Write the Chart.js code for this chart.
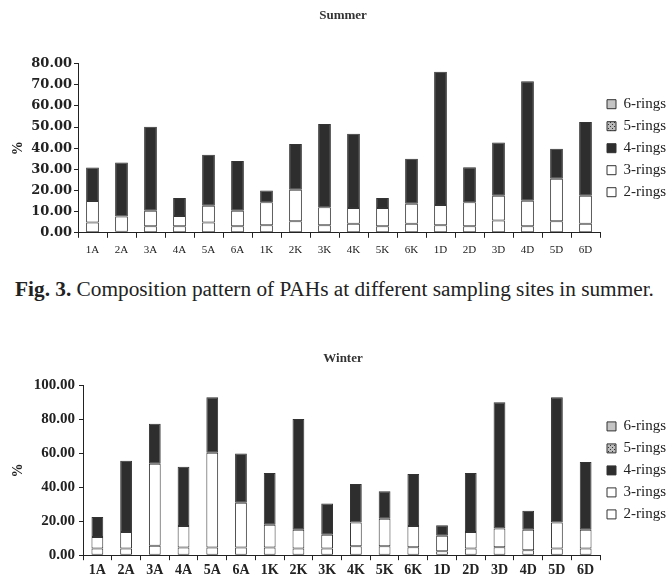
<!DOCTYPE html>
<html>
<head>
<meta charset="utf-8">
<script src="https://cdn.jsdelivr.net/npm/chart.js@4.4.1/dist/chart.umd.min.js"></script>
<style>
  body { margin: 0; background: #fff; width: 669px; height: 579px; overflow: hidden; position: relative; font-family: "Liberation Serif", serif; }
  #summer { position: absolute; left: 0; top: 0; }
  #winter { position: absolute; left: 0; top: 335px; }
  #caption { position: absolute; left: 0; top: 277px; width: 669px; text-align: center; font-size: 21.3px; color: #222; white-space: nowrap; }
</style>
</head>
<body>
<canvas id="summer" width="669" height="264"></canvas>
<div id="caption"><b>Fig. 3.</b> Composition pattern of PAHs at different sampling sites in summer.</div>
<canvas id="winter" width="669" height="246"></canvas>
<script>
const sites = ['1A','2A','3A','4A','5A','6A','1K','2K','3K','4K','5K','6K','1D','2D','3D','4D','5D','6D'];
const rings = ['2-rings','3-rings','4-rings','5-rings','6-rings'];

// summer, % per ring group (segment heights)
const summer2 = [4.9,0.5,3.1,3.1,4.9,3.1,3.6,5.5,3.6,4.3,3.1,4.3,3.6,3.1,5.8,3.1,5.5,4.3];
const summer3 = [10.1,7.2,7.3,4.9,7.9,7.3,10.9,14.8,8.5,7.4,8.6,9.4,9.6,11.4,11.7,12.0,20.0,13.2];
const summer4 = [15.9,25.5,39.7,8.5,24.1,23.5,5.5,21.7,39.4,35.1,4.8,21.3,63.0,16.5,25.2,56.6,14.2,34.9];
const summer5 = [0,0,0,0,0,0,0,0,0,0,0,0,0,0,0,0,0,0];
const summer6 = [0,0,0,0,0,0,0,0,0,0,0,0,0,0,0,0,0,0];

// winter
const winter2 = [3.9,3.9,5.5,4.5,4.5,4.5,4.5,3.9,3.9,5.3,5.3,4.7,2.3,3.9,4.7,2.9,3.9,3.9];
const winter3 = [6.8,9.8,48.4,12.7,55.9,26.4,13.5,11.1,8.2,14.0,16.2,12.5,9.2,9.8,11.1,12.1,15.4,11.1];
const winter4 = [11.8,42.0,23.6,34.9,32.8,29.1,30.4,65.3,18.4,22.7,16.2,30.7,6.1,34.7,74.4,11.2,73.9,39.9];
const winter5 = [0,0,0,0,0,0,0,0,0,0,0,0,0,0,0,0,0,0];
const winter6 = [0,0,0,0,0,0,0,0,0,0,0,0,0,0,0,0,0,0];

const summerTicks = { max: 80, step: 10 };
const winterTicks = { max: 100, step: 20 };

// little crosshatch for the 5-rings fill
function hatch() {
  const c = document.createElement('canvas');
  c.width = 4; c.height = 4;
  const g = c.getContext('2d');
  g.fillStyle = '#bbb'; g.fillRect(0, 0, 4, 4);
  g.fillStyle = '#333'; g.fillRect(0, 0, 1, 1); g.fillRect(2, 2, 1, 1);
  return g.createPattern(c, 'repeat');
}
const fills = ['#ffffff', '#ffffff', '#2e2e2e', hatch(), '#c4c4c4'];

const serif = '"Liberation Serif", "Times New Roman", serif';

function drawChart(id, title, series, ticks, o) {
  new Chart(document.getElementById(id), {
    type: 'bar',
    data: {
      labels: sites,
      datasets: series.map((d, i) => ({
        label: rings[i], data: d,
        backgroundColor: fills[i], borderColor: '#333', borderWidth: 1, borderSkipped: false,
        barPercentage: o.barPct, categoryPercentage: 1
      }))
    },
    options: {
      responsive: false, animation: false,
      layout: { padding: { left: 10, right: -7, bottom: o.padBottom } },
      plugins: {
        title: { display: true, text: title, color: '#333', font: { family: serif, size: 13, weight: 'bold' }, padding: { top: o.titleTop, bottom: o.titleBottom } },
        legend: {
          position: 'right', reverse: true, fullSize: false,
          labels: { boxWidth: 9, boxHeight: 9, padding: 7, color: '#222', font: { family: serif, size: 15 } }
        },
        tooltip: { enabled: false }
      },
      scales: {
        x: {
          stacked: true,
          border: { color: '#222', width: 1 },
          grid: { display: true, drawOnChartArea: false, offset: true, tickLength: 5, color: '#222' },
          ticks: { color: '#222', padding: o.xPad, maxRotation: 0, font: { family: serif, size: o.xFont, weight: o.xWeight } }
        },
        y: {
          stacked: true, min: 0, max: ticks.max,
          afterFit: s => { s.width = o.yWidth; },
          border: { color: '#222', width: 1 },
          grid: { display: true, drawOnChartArea: false, tickLength: 4, color: '#222' },
          ticks: { stepSize: ticks.step, color: '#222', padding: o.yPad, callback: v => v.toFixed(2), font: o.yFont },
          title: { display: true, text: '%', color: '#222', padding: 0, font: { family: serif, size: 14, weight: 'bold' } }
        }
      }
    }
  });
}

drawChart('summer', 'Summer', [summer2, summer3, summer4, summer5, summer6], summerTicks,
  { barPct: 0.44, padBottom: 1, titleTop: 8, titleBottom: 40, xFont: 11, xWeight: 'normal', xPad: 6, yWidth: 68, yPad: 2,
    yFont: { family: '"DejaVu Serif", serif', size: 13, weight: 'bold' } });
drawChart('winter', 'Winter', [winter2, winter3, winter4, winter5, winter6], winterTicks,
  { barPct: 0.41, padBottom: 0, titleTop: 16, titleBottom: 19, xFont: 14, xWeight: 'bold', xPad: 2, yWidth: 73, yPad: 4,
    yFont: { family: serif, size: 15, weight: 'bold' } });
</script>
</body>
</html>
